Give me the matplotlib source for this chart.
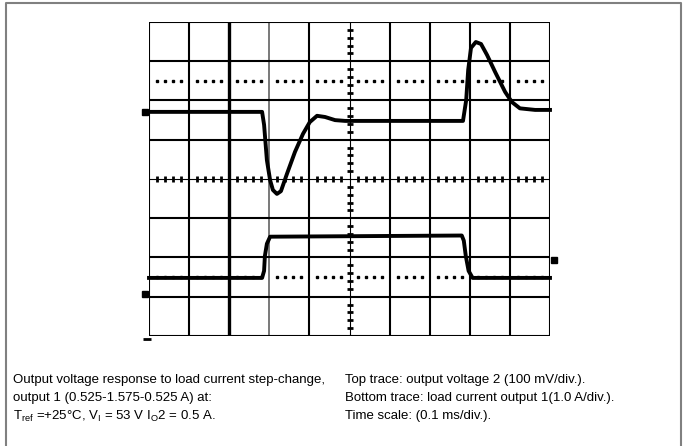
import matplotlib
matplotlib.use('Agg')
import matplotlib.pyplot as plt
import numpy as np
from matplotlib.lines import Line2D

# scope settings
ms_per_div = 0.1
mv_per_div = 100.0
a_per_div = 1.0

# top trace: output voltage 2, mV relative to screen centre
t_top = [0.0, 0.282, 0.287, 0.294, 0.302, 0.309, 0.319, 0.329, 0.344, 0.364, 0.384,
         0.401, 0.419, 0.439, 0.464, 0.489, 0.783, 0.791, 0.796, 0.803, 0.815,
         0.828, 0.843, 0.863, 0.888, 0.905, 0.925, 0.963, 1.0]
v_top = [171, 171, 138, 48, -3, -28, -38, -31, 13, 69, 115,
         145, 161, 158, 150, 148, 148, 201, 278, 334, 349,
         344, 316, 273, 222, 196, 180, 176, 176]

# bottom trace: load current output 1, A above channel-2 marker
t_bot = [0.0, 0.282, 0.287, 0.289, 0.294, 0.302, 0.78, 0.785, 0.79, 0.797, 0.807, 1.0]
i_bot = [0.41, 0.41, 0.59, 0.97, 1.28, 1.46, 1.49, 1.36, 0.97, 0.59, 0.41, 0.41]
ch2_ground = -2.93   # div, marker on left edge
ch1_marker = 1.70    # div
right_marker = -2.06 # div

caption_left = ["Output voltage response to load current step-change,",
                "output 1 (0.525-1.575-0.525 A) at:",
                r"T$_{\mathrm{ref}}$ =+25°C, V$_{\mathrm{I}}$ = 53 V I$_{\mathrm{O}}$2 = 0.5 A."]
caption_right = ["Top trace: output voltage 2 (100 mV/div.).",
                 "Bottom trace: load current output 1(1.0 A/div.).",
                 "Time scale: (0.1 ms/div.)."]

plt.rcParams['font.family'] = ['Liberation Sans', 'DejaVu Sans']
plt.rcParams['mathtext.fontset'] = 'custom'
plt.rcParams['mathtext.rm'] = 'Liberation Sans'

W, H = 683, 446
fig = plt.figure(figsize=(W / 100, H / 100), dpi=100)

# outer frame (grey, open at bottom)
fx = [6 / W, 6 / W, 681 / W, 681 / W]
fy = [0, 1 - 3 / H, 1 - 3 / H, 0]
fig.add_artist(Line2D(fx, fy, transform=fig.transFigure, color='#808080', lw=1.5))

ax = fig.add_axes([149 / W, 1 - 336 / H, 401 / W, 314 / H])
ax.set_xlim(0, 10)
ax.set_ylim(-4, 4)
ax.axis('off')

# graticule
for i in range(11):
    if i == 5:
        continue
    lw, col = 1.5, 'black'
    if i == 2:
        lw = 2.4
    if i == 3:
        lw, col = 1.1, '#555555'
    ax.axvline(i, color=col, lw=lw, zorder=1)
for j in range(-4, 5):
    if j == 0:
        continue
    ax.axhline(j, color='black', lw=1.5, zorder=1)

# centre lines with minor ticks
ax.axvline(5, color='black', lw=0.8, zorder=1)
ax.axhline(0, color='black', lw=0.8, zorder=1)
xt = np.arange(0, 10.01, 0.2)
xt = xt[np.abs(xt - np.round(xt)) > 0.05]
ax.plot(xt, np.zeros_like(xt), ls='none', marker='|', ms=5, mew=2, color='black', zorder=2)
yt = np.arange(-4, 4.01, 0.2)
yt = yt[np.abs(yt - np.round(yt)) > 0.05]
ax.plot(np.full_like(yt, 5), yt, ls='none', marker='_', ms=5, mew=2, color='black', zorder=2)

# dotted reference lines
for yd in (2.5, -2.5):
    ax.plot(xt, np.full_like(xt, yd), ls='none', marker='s', ms=1.7, color='black', zorder=2)

# traces
ax.plot(np.array(t_top) / ms_per_div, np.array(v_top) / mv_per_div,
        color='black', lw=2.8, solid_joinstyle='round', zorder=3, clip_on=False)
ax.plot(np.array(t_bot) / ms_per_div, ch2_ground + np.array(i_bot) / a_per_div,
        color='black', lw=2.8, solid_joinstyle='round', zorder=3, clip_on=False)

# channel markers
ax.plot([-0.1], [ch1_marker], marker='s', ms=5, color='black', clip_on=False)
ax.plot([-0.1], [ch2_ground], marker='s', ms=5, color='black', clip_on=False)
ax.plot([10.1], [right_marker], marker='s', ms=4.5, color='black', clip_on=False)
ax.plot([-0.05], [-4.07], marker='_', ms=6, mew=2, color='black', clip_on=False)

# caption
for k, s in enumerate(caption_left):
    fig.text(13 / W, 1 - (380 + 18 * k) / H, s, fontsize=9.5, va='center', ha='left')
for k, s in enumerate(caption_right):
    fig.text(345 / W, 1 - (380 + 18 * k) / H, s, fontsize=9.5, va='center', ha='left')

fig.savefig('out.png', dpi=100, facecolor='white')
